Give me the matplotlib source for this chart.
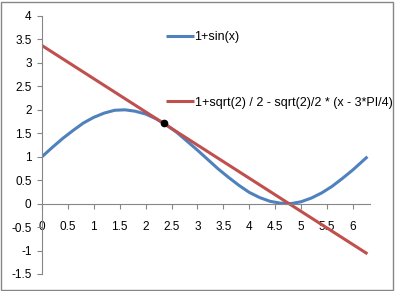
import matplotlib
matplotlib.use('Agg')
import matplotlib.pyplot as plt
from matplotlib.patches import Rectangle

plt.rcParams['font.family'] = ['Liberation Sans', 'DejaVu Sans']

# 1+sin(x)
x_sin = [0.0, 0.2, 0.4, 0.6, 0.8, 1.0, 1.2, 1.4, 1.6, 1.8, 2.0, 2.2, 2.4, 2.6,
         2.8, 3.0, 3.2, 3.4, 3.6, 3.8, 4.0, 4.2, 4.4, 4.6, 4.8, 5.0, 5.2, 5.4,
         5.6, 5.8, 6.0, 6.2, 6.28]
y_sin = [1.00, 1.20, 1.39, 1.56, 1.72, 1.84, 1.93, 1.99, 2.00, 1.97, 1.91, 1.81,
         1.68, 1.52, 1.33, 1.14, 0.94, 0.74, 0.56, 0.39, 0.24, 0.13, 0.05, 0.01,
         0.00, 0.04, 0.12, 0.23, 0.37, 0.54, 0.72, 0.92, 1.00]

# tangent line
x_tan = [0.0, 6.28]
y_tan = [3.37, -1.07]

# touching point
x_pt = [2.36]
y_pt = [1.71]

label_sin = '1+sin(x)'
label_tan = '1+sqrt(2) / 2 - sqrt(2)/2 * (x - 3*PI/4)'

BLUE = '#4F81BD'
RED = '#C0504D'
AXIS = '#868686'

fig = plt.figure(figsize=(3.95, 2.91), dpi=100)
ax = fig.add_axes([42 / 395, 17 / 291, 328 / 395, 258 / 291])

ax.plot(x_sin, y_sin, color=BLUE, lw=2.2, label=label_sin, solid_capstyle='butt')
ax.plot(x_tan, y_tan, color=RED, lw=2.2, label=label_tan, solid_capstyle='butt')
ax.plot(x_pt, y_pt, 'o', color='black', ms=4.5, zorder=5)

ax.set_xlim(0, 6.33)
ax.set_ylim(-1.5, 4)
ax.set_xticks([i * 0.5 for i in range(13)])
ax.set_xticklabels(['0', '0.5', '1', '1.5', '2', '2.5', '3', '3.5', '4', '4.5', '5', '5.5', '6'])
ax.set_yticks([-1.5 + i * 0.5 for i in range(12)])
ax.set_yticklabels(['-1.5', '-1', '-0.5', '0', '0.5', '1', '1.5', '2', '2.5', '3', '3.5', '4'])

ax.spines['top'].set_visible(False)
ax.spines['right'].set_visible(False)
ax.spines['bottom'].set_position(('data', 0))
ax.spines['left'].set_color(AXIS)
ax.spines['bottom'].set_color(AXIS)
ax.tick_params(axis='both', colors=AXIS, labelcolor='black', labelsize=8.5,
               length=3.5, width=0.8, direction='out')
ax.tick_params(axis='x', pad=9)
ax.tick_params(axis='y', pad=4)
ax.patch.set_visible(False)

ax.legend(loc='upper left', bbox_to_anchor=(0.345, 0.985), frameon=False,
          fontsize=9, handlelength=2.2, handletextpad=0.05, labelspacing=4.3)

fig.patches.append(Rectangle((1 / 395, 1 / 291), 392 / 395, 288 / 291,
                             transform=fig.transFigure, fill=False,
                             edgecolor=AXIS, lw=1))

fig.savefig('out.png', dpi=100)
